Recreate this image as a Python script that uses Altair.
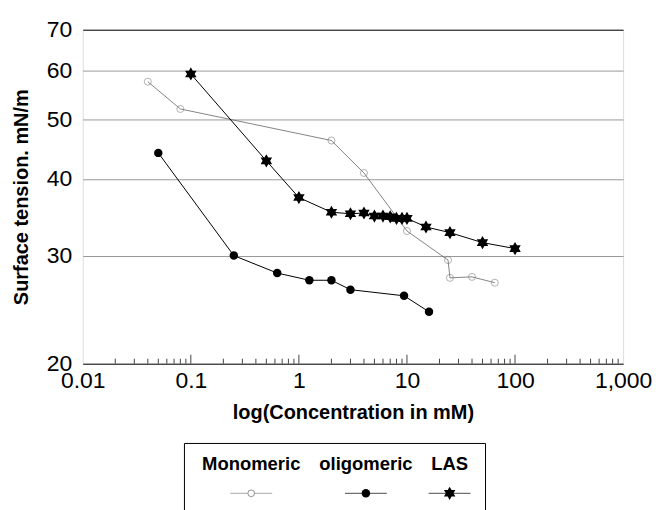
import altair as alt
import pandas as pd

# ---- data ----
series_names = ["Monomeric", "oligomeric", "LAS"]

mono_conc = [0.04, 0.08, 2, 4, 10, 24, 25, 40, 65]
mono_st = [57.6, 52.0, 46.2, 40.9, 32.9, 29.5, 27.6, 27.7, 27.1]

oligo_conc = [0.05, 0.25, 0.63, 1.25, 2, 3, 9.4, 16]
oligo_st = [44.1, 30.0, 28.1, 27.35, 27.35, 26.4, 25.8, 24.3]

las_conc = [0.1, 0.5, 1, 2, 3, 4, 5, 6, 7, 8, 9, 10, 15, 25, 50, 100]
las_st = [59.3, 42.8, 37.3, 35.3, 35.1, 35.2, 34.8, 34.8, 34.7, 34.5, 34.5, 34.5,
          33.4, 32.7, 31.5, 30.8]

x_tick_values = [0.01, 0.1, 1, 10, 100, 1000]
y_tick_values = [20, 30, 40, 50, 60, 70]
major_ticks = [0.1, 1, 10, 100]
minor_ticks = [m * 10.0 ** e for e in range(-2, 3) for m in range(2, 10)]

FONT = "Liberation Sans"
STAR = ("M0,-1 L0.289,-0.5 L0.866,-0.5 L0.577,0 L0.866,0.5 L0.289,0.5 L0,1 "
        "L-0.289,0.5 L-0.866,0.5 L-0.577,0 L-0.866,-0.5 L-0.289,-0.5 Z")

W, H = 542, 335

mono = pd.DataFrame({"conc": mono_conc, "st": mono_st})
oligo = pd.DataFrame({"conc": oligo_conc, "st": oligo_st})
las = pd.DataFrame({"conc": las_conc, "st": las_st})

xscale = alt.Scale(type="log", domain=[0.01, 1000], nice=False)
yscale = alt.Scale(type="log", domain=[20, 70], nice=False)

xaxis = alt.Axis(values=x_tick_values, format=",~g", labelFontSize=23, labelFont=FONT,
                 labelColor="black", ticks=False, domain=False, grid=False,
                 labelFlush=False, labelPadding=6, labelOverlap=False,
                 title="log(Concentration in mM)", titleFont=FONT, titleFontSize=20,
                 titleFontWeight="bold", titleColor="black", titlePadding=10)
yaxis = alt.Axis(values=y_tick_values, format="d", labelFontSize=23, labelFont=FONT,
                 labelColor="black", ticks=False, domain=False, grid=True,
                 gridColor={"condition": {"test": "datum.value == 20 || datum.value == 70",
                                          "value": "black"}, "value": "#999999"},
                 gridWidth=1, labelFlush=False, labelPadding=11, labelOverlap=False,
                 title="Surface tension. mN/m", titleFont=FONT, titleFontSize=20,
                 titleFontWeight="bold", titleColor="black", titlePadding=15)

X = alt.X("conc:Q", scale=xscale, axis=xaxis)
Y = alt.Y("st:Q", scale=yscale, axis=yaxis)
Xn = alt.X("conc:Q", scale=xscale)
Yn = alt.Y("st:Q", scale=yscale)

base_axes = alt.Chart(mono).mark_line(color="#666666", strokeWidth=0.8).encode(x=X, y=Y)

mono_pts = alt.Chart(mono).mark_point(shape="circle", size=50, filled=False,
                                      color="#777777", strokeWidth=0.8).encode(x=Xn, y=Yn)
oligo_line = alt.Chart(oligo).mark_line(color="black", strokeWidth=1).encode(x=Xn, y=Yn)
oligo_pts = alt.Chart(oligo).mark_point(shape="circle", size=72, filled=True,
                                        color="black", opacity=1).encode(x=Xn, y=Yn)
las_line = alt.Chart(las).mark_line(color="black", strokeWidth=1).encode(x=Xn, y=Yn)
las_pts = alt.Chart(las).mark_point(shape=STAR, size=175, filled=True,
                                    color="black", opacity=1).encode(x=Xn, y=Yn)

major_df = pd.DataFrame({"conc": major_ticks})
minor_df = pd.DataFrame({"conc": minor_ticks})
major_rules = alt.Chart(major_df).mark_rule(color="#444444", strokeWidth=1).encode(
    x=Xn, y=alt.value(H - 9), y2=alt.value(H))
minor_rules = alt.Chart(minor_df).mark_rule(color="#444444", strokeWidth=1).encode(
    x=Xn, y=alt.value(H - 5), y2=alt.value(H))

main = alt.layer(base_axes, minor_rules, major_rules, mono_pts, oligo_line,
                 oligo_pts, las_line, las_pts).properties(width=W, height=H)

# ---- legend panel (box offset inside a wider, borderless panel) ----
LEG_OFF, LEG_W, LEG_H = 102, 302, 80
leg = pd.DataFrame({"name": series_names, "slot": [0, 1, 2]})
lx = alt.X("slot:Q", scale=alt.Scale(domain=[0, 1, 2],
                                     range=[LEG_OFF + 67, LEG_OFF + 182, LEG_OFF + 266]),
           axis=None)

box = alt.Chart(leg.iloc[[0]]).mark_rect(fill="white", stroke="black", strokeWidth=1).encode(
    x=alt.value(LEG_OFF), x2=alt.value(LEG_OFF + LEG_W), y=alt.value(0), y2=alt.value(LEG_H))

leg_text = alt.Chart(leg).mark_text(font=FONT, fontSize=18.5, fontWeight="bold",
                                    color="black", baseline="middle").encode(
    x=lx, y=alt.value(21), text="name:N")
leg_line_mono = alt.Chart(leg.iloc[[0]]).mark_point(
    shape="M-1,0L1,0", size=1764, filled=False, color="#666666", strokeWidth=0.8
).encode(x=lx, y=alt.value(50))
leg_line_other = alt.Chart(leg.iloc[[1, 2]]).mark_point(
    shape="M-1,0L1,0", size=1764, filled=False, color="black", strokeWidth=1
).encode(x=lx, y=alt.value(50))
leg_mono = alt.Chart(leg.iloc[[0]]).mark_point(
    shape="circle", size=45, filled=True, fill="white", stroke="#777777", strokeWidth=0.8,
    opacity=1).encode(x=lx, y=alt.value(50))
leg_oligo = alt.Chart(leg.iloc[[1]]).mark_point(
    shape="circle", size=72, filled=True, color="black", opacity=1).encode(x=lx, y=alt.value(50))
leg_las = alt.Chart(leg.iloc[[2]]).mark_point(
    shape=STAR, size=175, filled=True, color="black", opacity=1).encode(x=lx, y=alt.value(50))

legend = alt.layer(box, leg_text, leg_line_mono, leg_line_other, leg_mono, leg_oligo,
                   leg_las).properties(width=LEG_OFF + LEG_W, height=LEG_H,
                                       view=alt.ViewBackground(stroke="transparent"))

chart = alt.vconcat(main, legend, spacing=19).properties(
    padding={"left": 10, "top": 17, "right": 3, "bottom": 5}
).configure_view(stroke="black", strokeWidth=1).configure(background="white")

chart.save("out.html", embed_options={"renderer": "svg", "actions": False})
